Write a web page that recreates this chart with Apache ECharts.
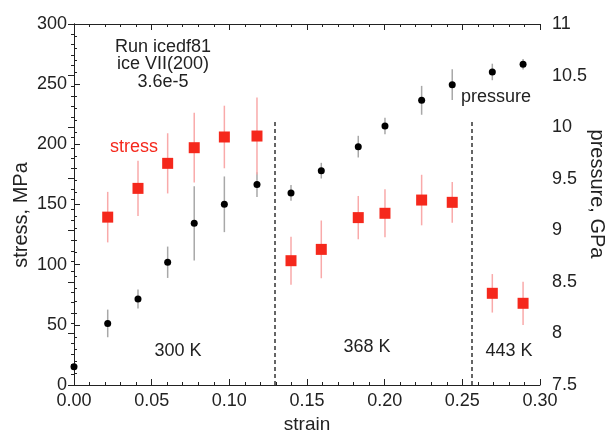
<!DOCTYPE html>
<html>
<head>
<meta charset="utf-8">
<script src="https://cdn.jsdelivr.net/npm/echarts@6/dist/echarts.min.js"></script>
<style>
  html, body { margin: 0; padding: 0; background: #fff; }
  #chart { width: 608px; height: 430px; }
</style>
</head>
<body>
<div id="chart"></div>
<script>
// stress points (red squares), left axis, MPa
const stressStrain = [0.0217, 0.0412, 0.0603, 0.0774, 0.0968, 0.1178, 0.1397, 0.1592, 0.1830, 0.2002, 0.2238, 0.2435, 0.2693, 0.2891];
const stress = [139.5, 163.4, 184.2, 197.2, 206.1, 206.9, 103.3, 112.7, 139.1, 142.7, 153.7, 151.8, 76.2, 67.9];
const stressErr = [21, 23, 25, 29, 26, 32, 20, 24, 18, 20, 21, 17, 16, 18];

// pressure points (black dots), right axis, GPa
const pressureStrain = [0, 0.0217, 0.0412, 0.0603, 0.0774, 0.0968, 0.1178, 0.1397, 0.1592, 0.1830, 0.2002, 0.2238, 0.2435, 0.2693, 0.2891];
const pressure = [7.677, 8.097, 8.334, 8.69, 9.068, 9.252, 9.443, 9.362, 9.578, 9.811, 10.011, 10.26, 10.412, 10.535, 10.61];
const pressureErr = [0.03, 0.134, 0.093, 0.152, 0.36, 0.27, 0.12, 0.076, 0.076, 0.105, 0.08, 0.14, 0.15, 0.08, 0.05];

// temperature section boundaries (strain) and how high the dashed lines go (MPa)
const dividerStrain = [0.129, 0.256];
const dividerTop = 219;

const font = "Liberation Sans, Arial, Helvetica, sans-serif";
const ink = "#222";

function errRows(xs, ys, es) {
  return xs.map((x, i) => [x, ys[i] - es[i], ys[i] + es[i]]);
}

function errBar(color) {
  return function (params, api) {
    const lo = api.coord([api.value(0), api.value(1)]);
    const hi = api.coord([api.value(0), api.value(2)]);
    return {
      type: "line",
      shape: { x1: lo[0], y1: lo[1], x2: hi[0], y2: hi[1] },
      style: { stroke: color, lineWidth: 1.5 }
    };
  };
}

function label(text, x, y, color, size, rotation) {
  return {
    type: "text", x: x, y: y, rotation: rotation || 0,
    style: { text: text, fill: color || ink, font: (size || 18) + "px " + font, align: "center", verticalAlign: "middle" }
  };
}

const tickCommon = {
  axisLine: { show: true, lineStyle: { color: ink, width: 1 } },
  axisTick: { show: true, inside: true, length: 6, lineStyle: { color: ink } },
  minorTick: { show: true, splitNumber: 5, length: 3, lineStyle: { color: ink } },
  splitLine: { show: false }
};

let chart = echarts.init(document.getElementById("chart"));

let option = {
  animation: false,
  textStyle: { fontFamily: font },
  grid: { left: 74, right: 68, top: 24, bottom: 45, outerBoundsMode: "none", containLabel: false },
  xAxis: [
    Object.assign({
      type: "value",
      min: 0,
      max: 0.3,
      interval: 0.05,
      name: "strain",
      nameLocation: "middle",
      nameGap: 22,
      nameTextStyle: { fontSize: 19, color: ink, fontFamily: font },
      axisLabel: {
        fontSize: 18, color: ink, margin: 7, fontFamily: font,
        formatter: v => v.toFixed(2)
      }
    }, tickCommon),
    Object.assign({
      type: "value",
      position: "top",
      min: 0,
      max: 0.3,
      interval: 0.05,
      axisLabel: { show: false }
    }, tickCommon)
  ],
  yAxis: [
    Object.assign({
      type: "value",
      min: 0,
      max: 300,
      interval: 50,
      axisLabel: { fontSize: 18, color: ink, margin: 7, fontFamily: font }
    }, tickCommon),
    Object.assign({
      type: "value",
      position: "right",
      min: 7.5,
      max: 11,
      interval: 0.5,
      axisLabel: { fontSize: 18, color: ink, margin: 12, fontFamily: font }
    }, tickCommon)
  ],
  graphic: [
    // axis titles
    label("stress, MPa", 21, 215, ink, 20, Math.PI / 2),
    label("pressure, GPa", 597, 194, ink, 20, -Math.PI / 2),
    // annotations
    label("Run icedf81", 163, 47),
    label("ice VII(200)", 163, 64),
    label("3.6e-5", 163, 82),
    label("stress", 134, 147, "#f5281c"),
    label("pressure", 496, 97),
    label("300 K", 178, 351),
    label("368 K", 367, 347),
    label("443 K", 509, 351)
  ],
  series: [
    {
      name: "pressure error",
      type: "custom",
      xAxisIndex: 0,
      yAxisIndex: 1,
      z: 1,
      renderItem: errBar("#a8a8a8"),
      data: errRows(pressureStrain, pressure, pressureErr)
    },
    {
      name: "stress error",
      type: "custom",
      xAxisIndex: 0,
      yAxisIndex: 0,
      z: 1,
      renderItem: errBar("#f9aaaa"),
      data: errRows(stressStrain, stress, stressErr)
    },
    {
      name: "pressure",
      type: "scatter",
      xAxisIndex: 0,
      yAxisIndex: 1,
      z: 3,
      symbol: "circle",
      symbolSize: 7,
      itemStyle: { color: "#000", opacity: 1 },
      data: pressureStrain.map((x, i) => [x, pressure[i]])
    },
    {
      name: "stress",
      type: "scatter",
      xAxisIndex: 0,
      yAxisIndex: 0,
      z: 3,
      symbol: "rect",
      symbolSize: 11,
      itemStyle: { color: "#f5281c", opacity: 1 },
      data: stressStrain.map((x, i) => [x, stress[i]]),
      markLine: {
        silent: true,
        symbol: "none",
        label: { show: false },
        lineStyle: { color: "#333", width: 1.5, type: [4, 3], opacity: 1 },
        data: dividerStrain.map(x => [{ coord: [x, 0] }, { coord: [x, dividerTop] }])
      }
    }
  ]
};

chart.setOption(option);
</script>
</body>
</html>
